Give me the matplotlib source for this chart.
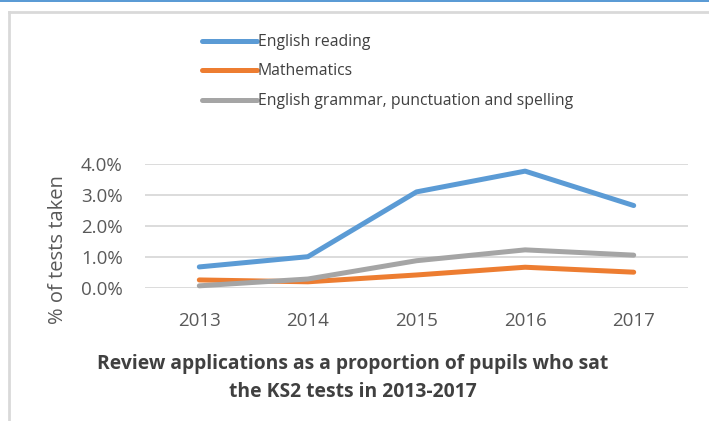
import matplotlib
matplotlib.use("Agg")
import matplotlib.pyplot as plt
from matplotlib.patches import Rectangle
from matplotlib.lines import Line2D

years = ["2013", "2014", "2015", "2016", "2017"]
english_reading = [0.68, 1.01, 3.10, 3.77, 2.66]
mathematics = [0.26, 0.20, 0.42, 0.67, 0.51]
gps = [0.07, 0.29, 0.88, 1.23, 1.06]
series_names = ["English reading", "Mathematics", "English grammar, punctuation and spelling"]
yticks = [0, 1, 2, 3, 4]
title = "Review applications as a proportion of pupils who sat\nthe KS2 tests in 2013-2017"
ylabel = "% of tests taken"

colors = ["#5B9BD5", "#ED7D31", "#A5A5A5"]
W, H = 709, 421
fig = plt.figure(figsize=(W / 100, H / 100), dpi=100)
plt.rcParams['font.family'] = ['Open Sans', 'DejaVu Sans']

# top blue line and light gray frame
fig.add_artist(Rectangle((0, 1 - 2 / H), 1, 2 / H, transform=fig.transFigure,
                         facecolor="#5B9BD5", edgecolor="none"))
fig.add_artist(Line2D([9 / W, 9 / W], [0, 1 - 12 / H], transform=fig.transFigure,
                      color="#D9D9D9", lw=2))
fig.add_artist(Line2D([9 / W, 1], [1 - 12 / H, 1 - 12 / H], transform=fig.transFigure,
                      color="#D9D9D9", lw=2))

ax = fig.add_axes([145 / W, 1 - 288 / H, (688 - 145) / W, (288 - 164) / H])
x = list(range(len(years)))
for vals, c, name in zip([english_reading, mathematics, gps], colors, series_names):
    ax.plot(x, vals, color=c, lw=3.6, solid_capstyle="round", clip_on=False, label=name, zorder=3)

ax.set_xlim(-0.5, len(years) - 0.5)
ax.set_ylim(0, 4)
ax.set_yticks(yticks)
ax.set_yticklabels([f"{v:.1f}%" for v in yticks])
ax.set_xticks(x)
ax.set_xticklabels(years)
ax.grid(axis="y", color="#D9D9D9", lw=1.3)
ax.set_axisbelow(True)
for s in ax.spines.values():
    s.set_visible(False)
ax.tick_params(axis="both", length=0, labelsize=13.5, labelcolor="#595959")
ax.tick_params(axis="y", pad=16)
ax.tick_params(axis="x", pad=17)

fig.text(58 / W, 1 - 250 / H, ylabel, rotation=90, ha="center", va="center",
         fontsize=14.5, color="#595959")

leg = fig.legend(loc="upper left", bbox_to_anchor=(202 / W, 1 - 34 / H), frameon=False,
                 fontsize=11.3, handlelength=3.5, handletextpad=0.05, labelspacing=0.86,
                 borderpad=0, borderaxespad=0, labelcolor="#404040")
for lh in leg.get_lines():
    lh.set_linewidth(3.6)
    lh.set_solid_capstyle("round")

fig.text(353 / W, 1 - 378 / H, title, ha="center", va="center", fontsize=13.9,
         fontweight="bold", color="#404040", linespacing=1.55)

fig.savefig("out.png", dpi=100)
